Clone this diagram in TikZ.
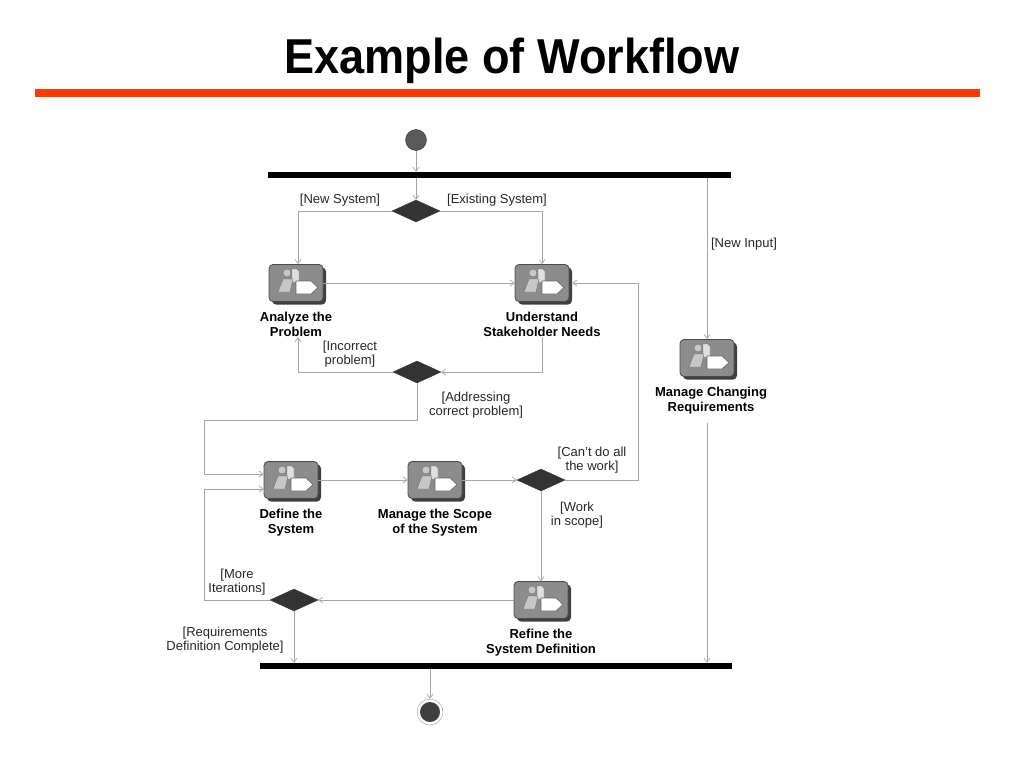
\documentclass[tikz,border=0pt]{standalone}
\usepackage{fontspec}
\setmainfont{Liberation Sans}
\usepackage{graphicx}
\usetikzlibrary{shadows}
\usetikzlibrary{arrows.meta,shapes}
\usetikzlibrary{calc,positioning}
\definecolor{rulered}{RGB}{255,58,0}
\definecolor{flowgray}{RGB}{165,165,165}
\tikzstyle{activity}=[rectangle,rounded corners=4pt,draw=black!70,fill=black!45,line width=0.8pt,minimum width=54pt,minimum height=37pt,inner sep=0pt,drop shadow={shadow xshift=3pt,shadow yshift=-3pt,fill=black!75,opacity=1}]
\tikzstyle{decision}=[diamond,fill=black!80,draw=black!80,minimum width=48pt,minimum height=22pt,inner sep=0pt]
\tikzstyle{syncbar}=[rectangle,fill=black,minimum height=6pt,inner sep=0pt]
\tikzstyle{actname}=[font=\fontsize{13}{15.5}\selectfont\bfseries,align=center,inner sep=0.5pt]
\tikzstyle{guard}=[font=\fontsize{13}{14.5}\selectfont,align=center,inner sep=0pt,text=black!85]
\tikzstyle{flow}=[draw=flowgray,line width=0.7pt,-{Straight Barb[length=4pt,width=6pt]}]

\begin{document}
\begin{tikzpicture}[x=1pt,y=-1pt]
   \useasboundingbox (0,0) rectangle (1024,768);

   % heading
   \node[anchor=base,font=\fontsize{49}{50}\selectfont\bfseries] (title) at (512,73) {\scalebox{0.92}[1]{Example of Workflow}};
   \draw[rulered,line width=8pt] (35,93) -- (980,93);

   % start, bars, decisions
   \node[circle,fill=black!65,draw=black!80,minimum size=21pt,inner sep=0pt] (start) at (416,140) {};
   \node[syncbar,minimum width=463pt] (fork) at (499.5,175) {};
   \node[syncbar,minimum width=472pt] (join) at (496,666) {};
   \node[circle,draw=black!40,fill=white,minimum size=26pt,inner sep=0pt,
         path picture={\fill[black!75] (path picture bounding box.center) circle (10);}] (finish) at (430,712) {};

   \foreach \pos/ \name in {{(416,211)/system}, {(417,372)/problem}, {(541,480)/work}, {(294,600)/iter}}
        \node[decision] (\name) at \pos {};

   % activities
   \foreach \pos/ \name in {{(296,283)/analyze}, {(542,283)/understand}, {(707,358)/changing},
                            {(291,480)/define}, {(435,480)/scope}, {(541,600)/refine}}
        \node[activity] (\name) at \pos {};

   \foreach \name in {analyze,understand,changing,define,scope,refine} {
     \begin{scope}[shift={(\name.center)}]
        \filldraw[fill=black!12,draw=black!55,line width=0.4pt] (-4,-14) -- (1,-14) -- (3,-12) -- (3,-1) -- (-4,-1) -- cycle;
        \filldraw[fill=black!22,draw=black!55,line width=0.4pt] (-9,-10) circle (4);
        \filldraw[fill=black!22,draw=black!55,line width=0.4pt] (-18,9) -- (-13,-4) -- (-3,-4) -- (-6,9) -- cycle;
        \filldraw[fill=white,draw=black!60,line width=0.6pt] (0,-2) -- (15,-2) -- (22,4.5) -- (15,11) -- (0,11) -- cycle;
     \end{scope}
   }

   \node[actname,below=9pt of analyze] (analyzeText) {Analyze the\\Problem};
   \node[actname,below=9pt of understand] (understandText) {Understand\\Stakeholder Needs};
   \node[actname,below=9pt of changing,xshift=4pt] (changingText) {Manage Changing\\Requirements};
   \node[actname,below=9pt of define] (defineText) {Define the\\System};
   \node[actname,below=9pt of scope] (scopeText) {Manage the Scope\\of the System};
   \node[actname,below=9pt of refine] (refineText) {Refine the\\System Definition};

   % guards
   \foreach \pos/ \name / \label in {{(340,200)/gNew/[New System]}, {(497,200)/gExist/[Existing System]},
                                     {(744,244)/gInput/[New Input]}, {(350,354)/gWrong/[Incorrect\\problem]},
                                     {(476,405)/gRight/[Addressing\\correct problem]}, {(592,460)/gCant/[Can't do all\\the work]},
                                     {(577,515)/gScope/[Work\\in scope]}, {(237,582)/gMore/[More\\Iterations]},
                                     {(225,640)/gDone/[Requirements\\Definition Complete]}}
        \node[guard] (\name) at \pos {\label};

   \coordinate (loopL) at (204,420);
   \coordinate (loopR) at (638,420);

   % flows
   \draw[flow] (start) -- (start |- fork.north);
   \draw[flow] (system |- fork.south) -- (system.north);
   \draw[flow] (system.west) -| ([xshift=2pt]analyze.north);
   \draw[flow] (system.east) -| (understand.north);
   \draw[flow] (analyze.east) -- (understand.west);
   \draw[flow] (understandText.south) |- (problem.east);
   \draw[flow] (problem.west) -| ([xshift=2pt]analyzeText.south);
   \draw[flow] (problem.south) |- (loopL) |- ([yshift=6pt]define.west);
   \draw[flow] (define.east) -- (scope.west);
   \draw[flow] (scope.east) -- (work.west);
   \draw[flow] (work.east) -- (work.east -| loopR) |- ([xshift=3pt]understand.east);
   \draw[flow] (work.south) -- (refine.north);
   \draw[flow] (refine.west) -- (iter.east);
   \draw[flow] (iter.west) -- (iter.west -| loopL) |- ([yshift=-9pt]define.west);
   \draw[flow] (iter.south) -- (iter |- join.north);
   \draw[flow] (changing |- fork.south) -- (changing.north);
   \draw[flow,shorten <=8pt] (changing |- changingText.south) -- (changing |- join.north);
   \draw[flow] (finish |- join.south) -- (finish.north);
\end{tikzpicture}
\end{document}
